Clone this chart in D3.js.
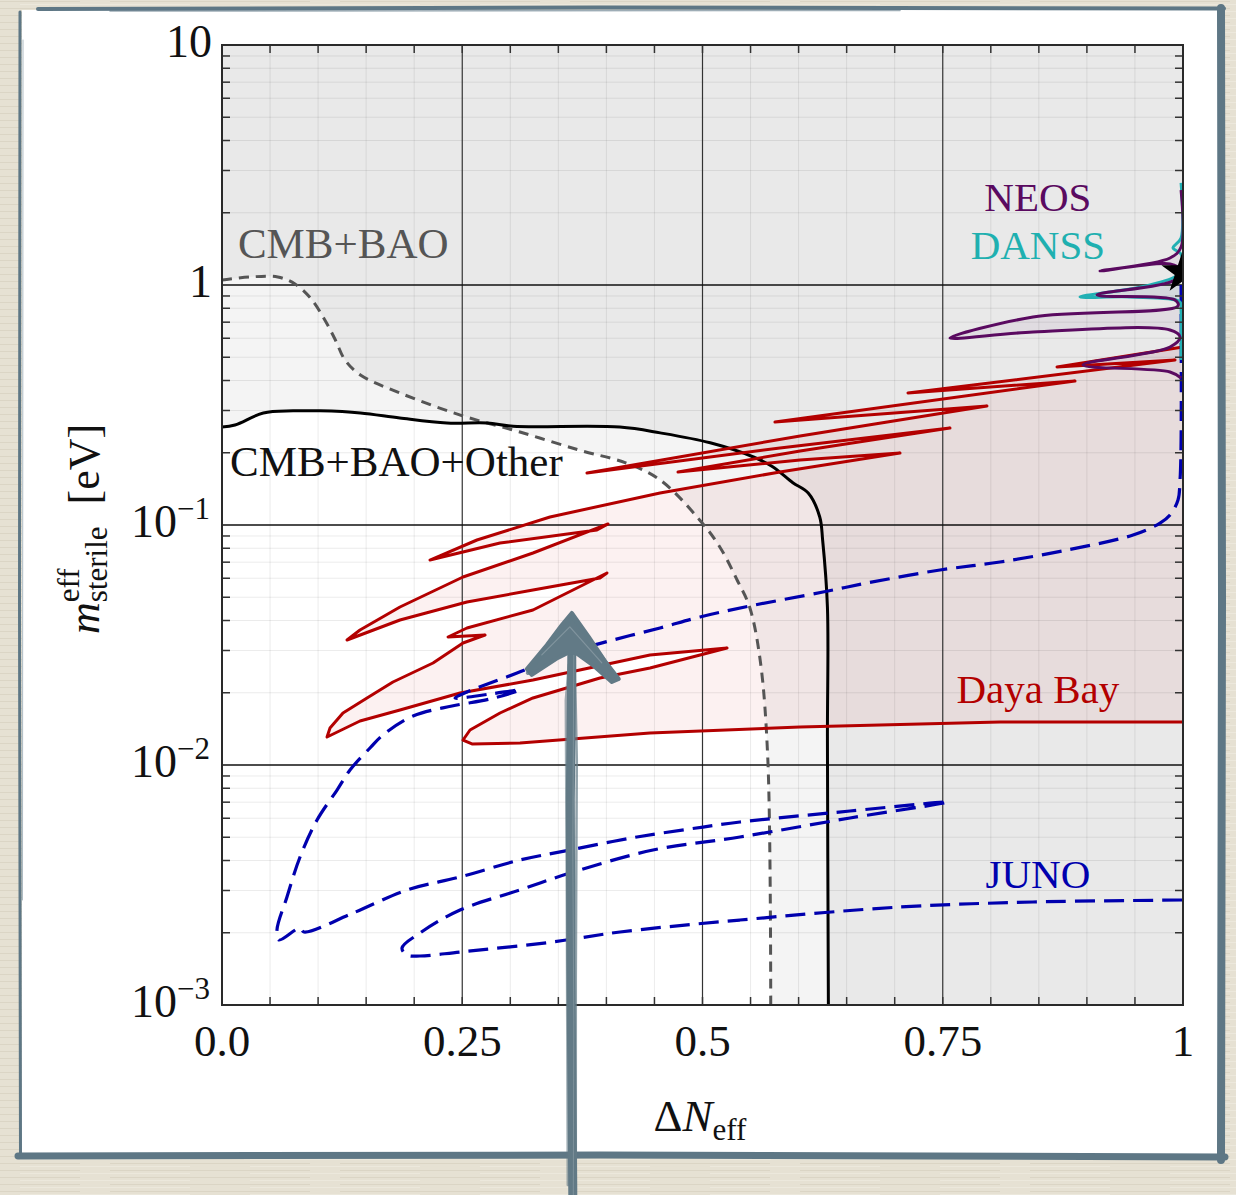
<!DOCTYPE html>
<html>
<head>
<meta charset="utf-8">
<script src="https://cdn.jsdelivr.net/npm/d3@7"></script>
<style>
  html, body { margin: 0; padding: 0; background: #e5e0d2; }
  svg { display: block; }
  text { font-family: "Liberation Serif", "Times New Roman", serif; }
</style>
</head>
<body>
<svg id="chart" width="1236" height="1195"></svg>
<script>
// ---- data (Delta N_eff , m_eff in eV) ----
const cmbBao = [[0,1.049],[0.029,1.08],[0.058,1.08],[0.076,1.01],[0.092,0.883],[0.107,0.715],[0.118,0.59],
  [0.128,0.487],[0.144,0.422],[0.185,0.355],[0.248,0.287],[0.31,0.244],[0.372,0.205],[0.421,0.181],[0.456,0.154],
  [0.497,0.105],[0.518,0.081],[0.536,0.059],[0.549,0.0455],[0.56,0.0274],[0.568,0.0105],[0.571,0.001]];

const cmbBaoOther = [[0,0.256],[0.0135,0.261],[0.043,0.293],[0.074,0.299],[0.102,0.299],[0.144,0.293],[0.185,0.279],
  [0.234,0.266],[0.276,0.266],[0.303,0.258],[0.414,0.256],[0.456,0.242],[0.508,0.22],[0.553,0.192],[0.573,0.175],
  [0.594,0.15],[0.61,0.136],[0.622,0.108],[0.625,0.0866],[0.63,0.0455],[0.63,0.0127],[0.631,0.001]];

const dayaBay = [[1,0.0151],[0.8096,0.0151],[0.6015,0.0144],[0.4454,0.01359],[0.3101,0.01235],[0.2601,0.01224],
  [0.2508,0.01271],[0.2581,0.01399],[0.2893,0.01647],[0.3236,0.01902],[0.3933,0.02305],[0.4454,0.02536],[0.5255,0.03073],
  [0.4454,0.02873],[0.3236,0.0226],[0.2477,0.01995],[0.1852,0.01696],[0.1436,0.01525],[0.1093,0.01308],
  [0.1124,0.01426],[0.1259,0.01647],[0.1509,0.01902],[0.1779,0.02217],[0.2196,0.02661],[0.2508,0.03224],[0.2737,0.03481],
  [0.2352,0.03415],[0.2549,0.03723],[0.3236,0.04424],[0.4006,0.0631],
  [0.3933,0.06015],[0.3236,0.05361],[0.2549,0.04778],[0.1852,0.04019],[0.1301,0.03318],
  [0.1436,0.03652],[0.1852,0.04554],[0.2508,0.06073],[0.3236,0.07643],[0.4017,0.101],
  [0.3902,0.09532],[0.2893,0.08414],[0.2164,0.07147],
  [0.2653,0.0866],[0.3413,0.108],[0.4558,0.136],[0.5806,0.1663],[0.7055,0.1995],
  [0.6015,0.1866],[0.4745,0.1663],[0.6015,0.2034],[0.7575,0.2535],[0.5806,0.2094],[0.3798,0.1647],
  [0.6015,0.2349],[0.796,0.3133],[0.5754,0.2686],[0.8876,0.3981],[0.7138,0.3548],[0.9917,0.487],
  [0.8689,0.4552],[1,0.5513]];

const neos = [[0.998,2.488],[0.998,1.44],[0.9865,1.296],[0.9136,1.144],[0.9865,1.223],[0.9969,1.155],[0.9917,1.049],
  [0.9105,0.9085],[0.9917,0.866],[0.9948,0.8175],[0.8439,0.7356],[0.7575,0.6014],[0.8439,0.637],[0.9865,0.6494],
  [0.9969,0.6074],[0.9865,0.5513],[0.8959,0.4642],[0.9865,0.4341],[0.998,0.4098]];

const danss = [[0.998,2.661],[0.998,1.57],[0.9896,1.427],[0.998,1.346],[0.998,1.133],[0.9657,1.0],[0.8928,0.8913],
  [0.9448,0.8913],[0.9969,0.8494],[0.998,0.7867],[0.998,0.487]];

const juno = [[0.998,1.0],[0.998,0.226],[0.9969,0.154],[0.9948,0.1271],[0.9865,0.1101],[0.9761,0.1019],[0.948,0.09085],
  [0.8793,0.07867],[0.8096,0.07012],[0.7471,0.06494],[0.6712,0.05733],[0.6254,0.05257],[0.5494,0.04597],
  [0.4974,0.04137],[0.4558,0.03723],[0.4069,0.03318],[0.359,0.02929],[0.307,0.02416],[0.2549,0.02015],
  [0.2425,0.01902],[0.2789,0.01976],[0.3101,0.02054],[0.2789,0.01884],[0.2393,0.01761],[0.1988,0.016],
  [0.1675,0.01334],[0.154,0.01177],[0.1332,0.009532],[0.1197,0.007867],[0.0989,0.0059],[0.0812,0.004137],
  [0.0676,0.002818],[0.0572,0.002054],[0.0593,0.001866],[0.0812,0.002094],[0.0853,0.002015],[0.1363,0.002416],
  [0.1925,0.003016],[0.2477,0.003415],[0.3101,0.004019],[0.3621,0.004424],[0.4318,0.005012],[0.5005,0.005513],
  [0.539,0.005787],[0.6535,0.006431],[0.7555,0.007012],[0.6535,0.006014],[0.539,0.005012],[0.4485,0.004424],
  [0.3621,0.003548],[0.3101,0.003016],[0.2477,0.002488],[0.206,0.001995],[0.1873,0.001728],[0.1925,0.001616],
  [0.206,0.0016],[0.2477,0.001663],[0.3444,0.001831],[0.4142,0.002015],[0.539,0.00226],[0.7055,0.00256],
  [0.8439,0.002686],[1,0.002738]];

const bestFit = [1.0, 1.13];

const xTicks = [0, 0.25, 0.5, 0.75, 1];
const xTickLabels = ['0.0', '0.25', '0.5', '0.75', '1'];
const yTicks = [10, 1, 0.1, 0.01, 0.001];
const yTickBase = ['10', '1', '10', '10', '10'];
const yTickExp = ['', '', '\u22121', '\u22122', '\u22123'];

// ---- setup ----
const W = 1236, H = 1195;
const x = d3.scaleLinear().domain([0, 1]).range([222, 1183]);
const y = d3.scaleLog().domain([1e-3, 10]).range([1005, 45]);

const svg = d3.select('#chart');
const defs = svg.append('defs');
defs.append('clipPath').attr('id', 'plotClip')
  .append('rect').attr('x', 222).attr('y', 45).attr('width', 961).attr('height', 960);

// paper background
const pat = defs.append('pattern').attr('id', 'paper')
  .attr('width', 230).attr('height', 7).attr('patternUnits', 'userSpaceOnUse');
pat.append('rect').attr('width', 230).attr('height', 7).attr('fill', '#e6e1d3');
pat.append('path').attr('d', 'M0,1.5H80M110,1.5H230').attr('stroke', '#dbd5c5').attr('stroke-width', 1);
pat.append('path').attr('d', 'M20,4.5H190').attr('stroke', '#ece8dc').attr('stroke-width', 1);
svg.append('rect').attr('width', W).attr('height', H).attr('fill', 'url(#paper)');

// card + sketchy border
svg.append('rect').attr('x', 22).attr('y', 10).attr('width', 1196).attr('height', 1144).attr('fill', '#fff');
const frameColor = '#5e7785';
const border = svg.append('g').attr('fill', 'none').attr('stroke', frameColor).attr('stroke-linecap', 'round');
border.append('path').attr('d', 'M38,9 L600,7.5 L1224,8.5').attr('stroke-width', 4);
border.append('path').attr('d', 'M110,11 L900,10.5').attr('stroke-width', 1.5).attr('opacity', 0.6);
border.append('path').attr('d', 'M20,12 L19.5,600 L20.5,1157').attr('stroke-width', 3);
border.append('path').attr('d', 'M23,40 L22.5,900').attr('stroke-width', 1).attr('opacity', 0.5);
border.append('path').attr('d', 'M1221,8 L1222,600 L1221,1160').attr('stroke-width', 8);
border.append('path').attr('d', 'M18,1156 L600,1155 L1225,1157').attr('stroke-width', 7);

// ---- plot ----
const plot = svg.append('g').attr('clip-path', 'url(#plotClip)');
const straight = d3.line().x(d => x(d[0])).y(d => y(d[1]));
const smooth = d3.line().x(d => x(d[0])).y(d => y(d[1])).curve(d3.curveCatmullRom.alpha(0.5));
const corner = c => 'L' + x(c[0]) + ',' + y(c[1]);
const topRight = [[1, 1e-3], [1, 10], [0, 10]];

// excluded regions
plot.append('path').attr('d', smooth(cmbBao) + topRight.map(corner).join('') + 'Z')
  .attr('fill', '#000').attr('fill-opacity', 0.045);
plot.append('path').attr('d', smooth(cmbBaoOther) + topRight.map(corner).join('') + 'Z')
  .attr('fill', '#000').attr('fill-opacity', 0.045);
plot.append('path').attr('d', straight(dayaBay) + 'Z')
  .attr('fill', '#c00000').attr('fill-opacity', 0.055);
plot.append('path').attr('d', smooth(neos) + 'Z').attr('fill', '#5c0a62').attr('fill-opacity', 0.06);
plot.append('path').attr('d', smooth(danss) + 'Z').attr('fill', '#20a8b0').attr('fill-opacity', 0.06);

// grid
const xMinor = d3.range(1, 20).map(i => i * 0.05).filter(v => Math.abs(v * 4 - Math.round(v * 4)) > 1e-6);
const yMinor = [];
[-3, -2, -1, 0].forEach(d => d3.range(2, 10).forEach(k => yMinor.push(k * Math.pow(10, d))));
plot.append('g').selectAll('line').data(xMinor).join('line')
  .attr('x1', d => x(d)).attr('x2', d => x(d)).attr('y1', 45).attr('y2', 1005)
  .attr('stroke', '#000').attr('stroke-opacity', 0.08);
plot.append('g').selectAll('line').data(yMinor).join('line')
  .attr('x1', 222).attr('x2', 1183).attr('y1', d => y(d)).attr('y2', d => y(d))
  .attr('stroke', '#000').attr('stroke-opacity', 0.08);
plot.append('g').selectAll('line').data([0.25, 0.5, 0.75]).join('line')
  .attr('x1', d => x(d)).attr('x2', d => x(d)).attr('y1', 45).attr('y2', 1005)
  .attr('stroke', '#333').attr('stroke-width', 1.2);
plot.append('g').selectAll('line').data([1, 0.1, 0.01]).join('line')
  .attr('x1', 222).attr('x2', 1183).attr('y1', d => y(d)).attr('y2', d => y(d))
  .attr('stroke', '#111').attr('stroke-width', 1.3);

// curves
const curveStyle = (sel, color, dash) => sel.attr('fill', 'none').attr('stroke', color)
  .attr('stroke-width', 3).attr('stroke-linejoin', 'round').attr('stroke-dasharray', dash || null);
curveStyle(plot.append('path').attr('d', smooth(cmbBao)), '#555', '10,7');
curveStyle(plot.append('path').attr('d', smooth(cmbBaoOther)), '#000');
curveStyle(plot.append('path').attr('d', straight(dayaBay)), '#b30000');
curveStyle(plot.append('path').attr('d', smooth(juno)), '#0000ae', '20,9').attr('stroke-width', 3.2);
curveStyle(plot.append('path').attr('d', smooth(danss)), '#22b0b4');
curveStyle(plot.append('path').attr('d', smooth(neos)), '#5a0a60');
plot.append('path')
  .attr('d', d3.symbol().type(d3.symbolStar).size(580)())
  .attr('transform', `translate(${x(bestFit[0])},${y(bestFit[1])})`)
  .attr('fill', '#000');

// frame + ticks
const axes = svg.append('g').attr('stroke', '#333').attr('stroke-width', 1.5);
const xTickPos = d3.range(1, 20).map(i => i * 0.05);
axes.selectAll('.tb').data(xTickPos).join('line').attr('class', 'tb')
  .attr('x1', d => x(d)).attr('x2', d => x(d)).attr('y1', 1005).attr('y2', 997);
axes.selectAll('.tt').data(xTickPos).join('line').attr('class', 'tt')
  .attr('x1', d => x(d)).attr('x2', d => x(d)).attr('y1', 45).attr('y2', 53);
axes.selectAll('.tl').data(yMinor).join('line').attr('class', 'tl')
  .attr('x1', 222).attr('x2', 230).attr('y1', d => y(d)).attr('y2', d => y(d));
axes.selectAll('.tr').data(yMinor).join('line').attr('class', 'tr')
  .attr('x1', 1183).attr('x2', 1175).attr('y1', d => y(d)).attr('y2', d => y(d));
svg.append('rect').attr('x', 222).attr('y', 45).attr('width', 961).attr('height', 960)
  .attr('fill', 'none').attr('stroke', '#2a2a2a').attr('stroke-width', 2);

// tick labels
svg.append('g').selectAll('text').data(xTicks).join('text')
  .attr('x', d => x(d)).attr('y', 1056).attr('text-anchor', 'middle')
  .attr('font-size', 45).attr('fill', '#111').text((d, i) => xTickLabels[i]);

const yl = svg.append('g').selectAll('text').data(yTicks).join('text')
  .attr('x', (d, i) => yTickExp[i] ? 210 : 212).attr('y', d => y(d) + 12)
  .attr('text-anchor', 'end').attr('font-size', 46).attr('fill', '#111');
yl.append('tspan').text((d, i) => yTickBase[i]);
yl.append('tspan').attr('font-size', 31).attr('dy', -18).text((d, i) => yTickExp[i]);

// axis titles
const xt = svg.append('text').attr('x', 700).attr('y', 1131).attr('text-anchor', 'middle')
  .attr('font-size', 45).attr('fill', '#111');
xt.append('tspan').text('\u0394');
xt.append('tspan').attr('font-style', 'italic').text('N');
xt.append('tspan').attr('font-size', 31).attr('dy', 9).text('eff');

const yt = svg.append('text').attr('transform', 'translate(99,634) rotate(-90)')
  .attr('font-size', 44).attr('fill', '#111');
yt.append('tspan').attr('font-style', 'italic').text('m');
const effSpan = yt.append('tspan').attr('font-size', 31).attr('dy', -20).text('eff');
const steSpan = yt.append('tspan').attr('font-size', 31).attr('dy', 28).text('sterile');
yt.append('tspan').attr('dy', -8).text('\u2002[eV]');
steSpan.attr('dx', -effSpan.node().getComputedTextLength());

// region labels
const labels = svg.append('g').attr('font-size', 41);
labels.append('text').attr('x', x(0.0166)).attr('y', y(1.296)).attr('fill', '#555').attr('font-size', 43).text('CMB+BAO');
labels.append('text').attr('x', x(0.0083)).attr('y', y(0.16)).attr('fill', '#111').attr('font-size', 43).text('CMB+BAO+Other');
labels.append('text').attr('x', x(0.849)).attr('y', y(2.03)).attr('text-anchor', 'middle').attr('fill', '#5a0a60').text('NEOS');
labels.append('text').attr('x', x(0.849)).attr('y', y(1.28)).attr('text-anchor', 'middle').attr('fill', '#1fb0b0').text('DANSS');
labels.append('text').attr('x', x(0.849)).attr('y', y(0.0181)).attr('text-anchor', 'middle').attr('fill', '#b30000').text('Daya Bay');
labels.append('text').attr('x', x(0.849)).attr('y', y(0.00307)).attr('text-anchor', 'middle').attr('fill', '#0000ae').text('JUNO');

// hand-drawn arrow
const ax = x(0.364), tipY = y(0.0422);
const arrowColor = '#627a86';
const arrow = svg.append('g').attr('fill', 'none').attr('stroke', arrowColor)
  .attr('stroke-linecap', 'round').attr('stroke-linejoin', 'round');
arrow.append('path').attr('d', `M${ax + 1},${H} L${ax - 1},960 L${ax - 1.5},800 L${ax},${tipY + 40}`).attr('stroke-width', 9);
arrow.append('path').attr('d', `M${ax + 4},${H - 5} L${ax + 4},980 L${ax + 5},760 L${ax + 3},${tipY + 45}`).attr('stroke-width', 2.5).attr('opacity', 0.7);
arrow.append('path').attr('d', `M${ax - 4},${H - 10} L${ax - 5},900 L${ax - 6},700 L${ax - 3},${tipY + 50}`).attr('stroke-width', 2.5).attr('opacity', 0.6);
arrow.append('path').attr('d', `M${ax + 1.5},${H} L${ax + 2},1020 L${ax + 1},850 L${ax + 2},${tipY + 40}`).attr('stroke', '#8fa0a8').attr('stroke-width', 1).attr('opacity', 0.6);
const head = [[0, -2], [17, 22], [33, 46], [47, 64], [40, 67], [22, 51], [4, 38], [-2, 37], [-14, 43], [-40, 60], [-45, 54], [-25, 30], [-10, 10]];
arrow.append('path').attr('d', 'M' + head.map(p => (ax + p[0]) + ',' + (tipY + p[1])).join('L') + 'Z')
  .attr('fill', arrowColor).attr('stroke-width', 4);
arrow.append('path').attr('d', `M${ax - 44},${tipY + 58} L${ax + 1},${tipY + 2} L${ax + 46},${tipY + 64}`).attr('stroke-width', 4).attr('opacity', 0.8);
arrow.append('path').attr('d', `M${ax - 30},${tipY + 40} L${ax - 2},${tipY + 12} L${ax + 30},${tipY + 48}`)
  .attr('stroke', '#8fa0a8').attr('stroke-width', 1.2).attr('opacity', 0.7);
</script>
</body>
</html>
